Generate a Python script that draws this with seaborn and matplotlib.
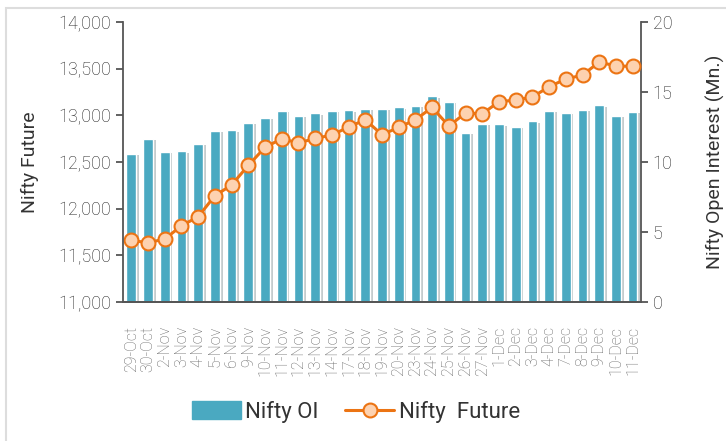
import numpy as np
import matplotlib
matplotlib.use("Agg")
import matplotlib.pyplot as plt
import matplotlib.patheffects as pe
from matplotlib.patches import Patch, Rectangle
from matplotlib.lines import Line2D
from matplotlib.ticker import FuncFormatter
import seaborn as sns

dates = ["29-Oct", "30-Oct", "2-Nov", "3-Nov", "4-Nov", "5-Nov", "6-Nov", "9-Nov",
         "10-Nov", "11-Nov", "12-Nov", "13-Nov", "14-Nov", "17-Nov", "18-Nov", "19-Nov",
         "20-Nov", "23-Nov", "24-Nov", "25-Nov", "26-Nov", "27-Nov", "1-Dec", "2-Dec",
         "3-Dec", "4-Dec", "7-Dec", "8-Dec", "9-Dec", "10-Dec", "11-Dec"]

nifty_oi = [10.57, 11.64, 10.71, 10.76, 11.29, 12.21, 12.26, 12.79, 13.16, 13.66,
            13.31, 13.47, 13.64, 13.69, 13.79, 13.81, 13.90, 14.00, 14.69, 14.31,
            12.09, 12.74, 12.69, 12.50, 12.90, 13.66, 13.50, 13.71, 14.05, 13.29, 13.57]

nifty_future = [11660, 11635, 11675, 11817, 11914, 12139, 12254, 12464, 12657, 12750,
                12704, 12753, 12789, 12875, 12953, 12793, 12871, 12953, 13085, 12886,
                13025, 13017, 13146, 13164, 13196, 13307, 13389, 13432, 13571, 13529, 13525]

bar_color = "#4aa9c1"
line_color = "#ec7413"
marker_fill = "#fdd2b0"
text_color = "#333333"

sns.set_style("white")
plt.rcParams["font.family"] = ["Roboto", "DejaVu Sans"]
plt.rcParams["font.weight"] = "light"

fig = plt.figure(figsize=(7.26, 4.41), dpi=100)
ax = fig.add_axes([0.1694, 0.3152, 0.7135, 0.6348])
ax2 = ax.twinx()

# bars on the right axis, line on the left axis drawn on top
sns.barplot(x=dates, y=nifty_oi, ax=ax2, color=bar_color, width=0.58, saturation=1)
for bar in ax2.patches:
    bar.set_path_effects([pe.SimplePatchShadow(offset=(2, -1), alpha=0.25), pe.Normal()])

sns.pointplot(x=dates, y=nifty_future, ax=ax, color=line_color, markers="o",
              linewidth=2.2, markersize=10, markerfacecolor=marker_fill,
              markeredgecolor=line_color, markeredgewidth=1.5)
ax.set_zorder(ax2.get_zorder() + 1)
ax.patch.set_visible(False)

n = len(dates)
ax.set_xlim(-0.5, n - 0.5)
ax.set_ylim(11000, 14000)
ax2.set_ylim(0, 20)
ax.set_yticks(np.arange(11000, 14001, 500))
ax.yaxis.set_major_formatter(FuncFormatter(lambda v, p: f"{int(v):,}"))
ax2.set_yticks(np.arange(0, 21, 5))

ax.set_xticks(np.arange(n + 1) - 0.5)
ax.set_xticklabels([""] * (n + 1))
ax.set_xticks(np.arange(n), minor=True)
ax.set_xticklabels(dates, minor=True, rotation=90, fontsize=11.5, color="#666666")
ax.tick_params(axis="x", which="major", length=5, width=1.3, color="#555555", direction="out")
ax.tick_params(axis="x", which="minor", length=0, pad=17)

ax.tick_params(axis="y", length=5, width=1.3, color="#555555", labelsize=13,
               labelcolor="#222222", direction="out", left=True)
ax2.tick_params(axis="y", length=5, width=1.3, color="#555555", labelsize=13,
                labelcolor="#222222", direction="out", right=True)

for a in (ax, ax2):
    a.set_xlabel("")
    a.grid(False)
    a.spines["top"].set_visible(False)
    for s in ("left", "right", "bottom"):
        a.spines[s].set_color("#555555")
        a.spines[s].set_linewidth(1.3)
ax.spines["right"].set_visible(False)
ax2.spines["left"].set_visible(False)

ax.set_ylabel("Nifty Future", fontsize=14, color=text_color, labelpad=14,
              fontweight="normal")
ax2.set_ylabel("Nifty Open Interest (Mn.)", fontsize=14, color=text_color, labelpad=24,
               fontweight="normal")

handles = [
    Patch(facecolor=bar_color, edgecolor=bar_color),
    Line2D([0], [0], color=line_color, linewidth=2.2, marker="o", markersize=10,
           markerfacecolor=marker_fill, markeredgecolor=line_color, markeredgewidth=1.5),
]
fig.legend(handles, ["Nifty OI", "Nifty  Future"], loc="center", ncol=2,
           bbox_to_anchor=(0.49, 0.066), frameon=False,
           prop={"size": 16, "weight": "normal"},
           handlelength=2.2, handleheight=0.85, columnspacing=1.2, handletextpad=0.2,
           labelcolor=text_color)

fig.patches.append(Rectangle((6 / 726, -0.01), 1.0, 1 - 8 / 441 + 0.01,
                             transform=fig.transFigure, fill=False,
                             edgecolor="#dddddd", linewidth=1.5))

fig.savefig("out.png", dpi=100)
